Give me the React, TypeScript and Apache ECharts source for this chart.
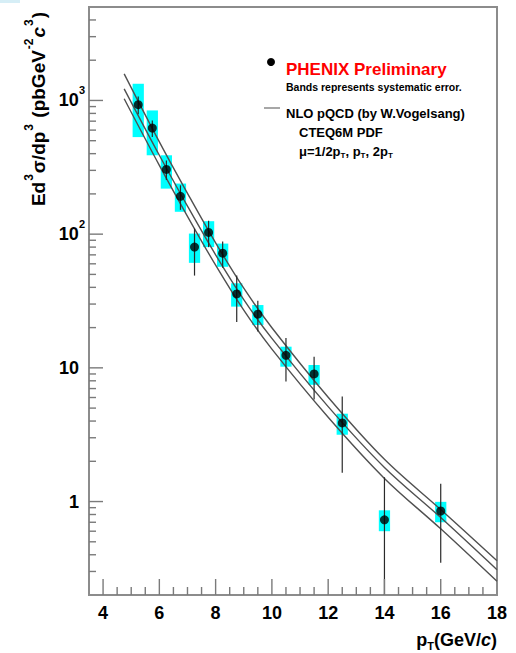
import React, { useEffect, useRef } from "react";
import * as echarts from "echarts";

// ---- data ----
const ptBins = [5.25, 5.75, 6.25, 6.75, 7.25, 7.75, 8.25, 8.75, 9.5, 10.5, 11.5, 12.5, 14, 16];
const crossSection = [929, 621, 305, 192, 80, 103, 72, 35.7, 25.2, 12.4, 9.0, 3.87, 0.73, 0.85];
const statLow = [789, 533, 254, 152, 49, 80, 56, 22, 18.7, 7.9, 5.8, 1.64, 0.2, 0.349];
const statHigh = [1069, 709, 356, 232, 110, 126, 88, 49, 31.8, 16.7, 12.1, 6.1, 1.52, 1.36];
const sysLow = [532, 389, 219, 147, 61, 80, 57, 28.7, 20.9, 10.2, 7.47, 3.16, 0.6, 0.7];
const sysHigh = [1333, 842, 389, 239, 101, 125, 85, 42.9, 29.5, 14.4, 10.5, 4.54, 0.86, 0.995];

const nloPt = [4.75, 6, 7, 8, 9, 10, 12, 14, 16, 18];
const nloMuHalf = [1581, 490, 202, 86.1, 39.4, 19.95, 6.03, 2.07, 0.871, 0.361];
const nloMuOne = [1222, 389, 162, 70.0, 32.4, 16.6, 5.13, 1.8, 0.759, 0.309];
const nloMuTwo = [1030, 327, 136, 58.6, 27.0, 13.8, 4.27, 1.49, 0.625, 0.253];

const xMajorTicks = [4, 6, 8, 10, 12, 14, 16];
const xMinorTicks = [4.5, 5, 5.5, 6.5, 7, 7.5, 8.5, 9, 9.5, 10.5, 11, 11.5, 12.5, 13, 13.5, 14.5, 15, 15.5, 16.5, 17, 17.5];
const yMajorTicks = [1, 10, 100, 1000];
const yMinorTicks = [
  0.3, 0.4, 0.5, 0.6, 0.7, 0.8, 0.9,
  2, 3, 4, 5, 6, 7, 8, 9,
  20, 30, 40, 50, 60, 70, 80, 90,
  200, 300, 400, 500, 600, 700, 800, 900,
  2000, 3000, 4000,
];

const X_MIN = 3.5;
const X_MAX = 18;
const Y_MIN = 0.2;
const Y_MAX = 5000;

const FONT = "'Liberation Sans', Arial, Helvetica, sans-serif";

export default function App() {
  const ref = useRef<HTMLDivElement>(null);

  useEffect(() => {
    if (!ref.current) return;
    const chart = echarts.init(ref.current, null, { renderer: "svg" });

    const tickItems: number[][] = [
      ...yMinorTicks.map((v) => [X_MIN, v, 0]),
      ...yMajorTicks.map((v) => [X_MIN, v, 1]),
      ...xMinorTicks.map((v) => [v, Y_MIN, 2]),
      ...xMajorTicks.map((v) => [v, Y_MIN, 3]),
    ];

    const boxItems = ptBins.map((x, i) => [x, crossSection[i], sysLow[i], sysHigh[i]]);
    const barItems = ptBins.map((x, i) => [x, crossSection[i], statLow[i], statHigh[i]]);

    const isPow10 = (v: number) => {
      const l = Math.log10(v);
      return Math.abs(l - Math.round(l)) < 1e-6;
    };

    const curve = (ys: number[]) => ({
      type: "line",
      data: nloPt.map((x, i) => [x, ys[i]]),
      smooth: 0.35,
      showSymbol: false,
      symbol: "none",
      lineStyle: { color: "#505050", width: 1.4 },
      z: 3,
      silent: true,
    });

    const option: any = {
      animation: false,
      backgroundColor: "#ffffff",
      textStyle: { fontFamily: FONT },
      grid: {
        left: 89,
        top: 7,
        width: 408,
        height: 588,
        show: true,
        borderColor: "#8c8c8c",
        borderWidth: 2,
        backgroundColor: "transparent",
      },
      xAxis: {
        type: "value",
        min: X_MIN,
        max: X_MAX,
        interval: 0.5,
        axisLine: { show: false },
        axisTick: { show: false },
        splitLine: { show: false },
        axisLabel: {
          margin: 9,
          color: "#000",
          fontSize: 18,
          fontWeight: "bold",
          fontFamily: FONT,
          formatter: (v: number) =>
            Math.abs(v - Math.round(v)) < 1e-6 && Math.round(v) % 2 === 0 ? String(Math.round(v)) : "",
        },
      },
      yAxis: {
        type: "log",
        logBase: 10,
        min: Y_MIN,
        max: Y_MAX,
        axisLine: { show: false },
        axisTick: { show: false },
        splitLine: { show: false },
        axisLabel: {
          margin: 4,
          color: "#000",
          fontFamily: FONT,
          formatter: (v: number) => {
            if (!isPow10(v)) return "";
            const e = Math.round(Math.log10(v));
            if (e === 0) return "{n|1}{sp| }";
            if (e === 1) return "{n|10}{sp| }";
            return "{n|10}{s|" + e + "}";
          },
          rich: {
            n: { fontSize: 18, fontWeight: "bold", color: "#000", fontFamily: FONT },
            s: { fontSize: 11, fontWeight: "bold", color: "#000", fontFamily: FONT, padding: [0, 0, 20, 0] },
            sp: { fontSize: 11, width: 6 },
          },
        },
      },
      series: [
        {
          type: "custom",
          name: "systematic",
          data: boxItems,
          encode: { x: 0, y: 1 },
          clip: true,
          z: 2,
          silent: true,
          renderItem: (params: any, api: any) => {
            const x = api.value(0);
            const lo = api.coord([x - 0.2, api.value(2)]);
            const hi = api.coord([x + 0.2, api.value(3)]);
            return {
              type: "rect",
              shape: { x: lo[0], y: hi[1], width: hi[0] - lo[0], height: lo[1] - hi[1] },
              style: { fill: "#00ffff" },
            };
          },
        },
        curve(nloMuHalf),
        curve(nloMuOne),
        curve(nloMuTwo),
        {
          type: "custom",
          name: "statistical",
          data: barItems,
          encode: { x: 0, y: 1 },
          clip: true,
          z: 4,
          silent: true,
          renderItem: (params: any, api: any) => {
            const x = api.value(0);
            const a = api.coord([x, api.value(2)]);
            const b = api.coord([x, api.value(3)]);
            return {
              type: "line",
              shape: { x1: a[0], y1: a[1], x2: b[0], y2: b[1] },
              style: { stroke: "#2a2a2a", lineWidth: 1.2 },
            };
          },
        },
        {
          type: "scatter",
          data: ptBins.map((x, i) => [x, crossSection[i]]),
          symbol: "circle",
          symbolSize: 9,
          itemStyle: { color: "#000" },
          z: 5,
          silent: true,
        },
        {
          type: "custom",
          name: "ticks",
          data: tickItems,
          encode: { x: 0, y: 1 },
          clip: false,
          z: 6,
          silent: true,
          renderItem: (params: any, api: any) => {
            const kind = api.value(2);
            const p = api.coord([api.value(0), api.value(1)]);
            let shape;
            if (kind === 0 || kind === 1) {
              const len = kind === 1 ? 14 : 7;
              shape = { x1: p[0], y1: p[1], x2: p[0] + len, y2: p[1] };
            } else {
              const len = kind === 3 ? 16 : 8;
              shape = { x1: p[0], y1: p[1], x2: p[0], y2: p[1] - len };
            }
            return { type: "line", shape, style: { stroke: "#7a7a7a", lineWidth: 1.4 } };
          },
        },
      ],
      graphic: [
        { type: "rect", left: 0, top: 0, shape: { width: 20, height: 3 }, style: { fill: "#d6eef6" } },
        {
          type: "text",
          x: 38,
          y: 109,
          rotation: Math.PI / 2,
          style: {
            text: "{t|Ed}{s|3}{t|σ/dp}{s|3}{t| (pbGeV}{s|-2}{i|c}{s|3}{t|)}",
            align: "center",
            verticalAlign: "middle",
            rich: {
              t: { fontSize: 19, fontWeight: "bold", fill: "#000", fontFamily: FONT },
              i: { fontSize: 19, fontWeight: "bold", fontStyle: "italic", fill: "#000", fontFamily: FONT },
              s: { fontSize: 12, fontWeight: "bold", fill: "#000", fontFamily: FONT, padding: [0, 1, 18, 1] },
            },
          },
        },
        {
          type: "text",
          x: 497,
          y: 640,
          style: {
            text: "{t|p}{b|T}{t|(GeV/}{i|c}{t|)}",
            align: "right",
            verticalAlign: "middle",
            rich: {
              t: { fontSize: 18, fontWeight: "bold", fill: "#000", fontFamily: FONT },
              i: { fontSize: 18, fontWeight: "bold", fontStyle: "italic", fill: "#000", fontFamily: FONT },
              b: { fontSize: 11, fontWeight: "bold", fill: "#000", fontFamily: FONT, padding: [12, 0, 0, 0] },
            },
          },
        },
        { type: "circle", shape: { cx: 271, cy: 62, r: 4 }, style: { fill: "#000" } },
        {
          type: "text",
          x: 286,
          y: 69,
          style: {
            text: "PHENIX Preliminary",
            fill: "#ff0000",
            font: "bold 17px " + FONT,
            verticalAlign: "middle",
          },
        },
        {
          type: "text",
          x: 286,
          y: 87,
          style: {
            text: "Bands represents systematic error.",
            fill: "#000",
            font: "bold 10.5px " + FONT,
            verticalAlign: "middle",
          },
        },
        {
          type: "line",
          shape: { x1: 264, y1: 108, x2: 280, y2: 108 },
          style: { stroke: "#8a8a8a", lineWidth: 1.5 },
        },
        {
          type: "text",
          x: 286,
          y: 113,
          style: {
            text: "NLO pQCD (by W.Vogelsang)",
            fill: "#000",
            font: "bold 13px " + FONT,
            verticalAlign: "middle",
          },
        },
        {
          type: "text",
          x: 299,
          y: 132,
          style: {
            text: "CTEQ6M PDF",
            fill: "#000",
            font: "bold 13px " + FONT,
            verticalAlign: "middle",
          },
        },
        {
          type: "text",
          x: 299,
          y: 151,
          style: {
            text: "{t|μ=1/2p}{b|T}{t|, p}{b|T}{t|, 2p}{b|T}",
            verticalAlign: "middle",
            rich: {
              t: { fontSize: 13, fontWeight: "bold", fill: "#000", fontFamily: FONT },
              b: { fontSize: 8, fontWeight: "bold", fill: "#000", fontFamily: FONT, padding: [8, 0, 0, 0] },
            },
          },
        },
      ],
    };

    chart.setOption(option);
    return () => chart.dispose();
  }, []);

  return (
    <div
      ref={ref}
      style={{ position: "fixed", left: 0, top: 0, width: 516, height: 653, background: "#fff" }}
    />
  );
}
